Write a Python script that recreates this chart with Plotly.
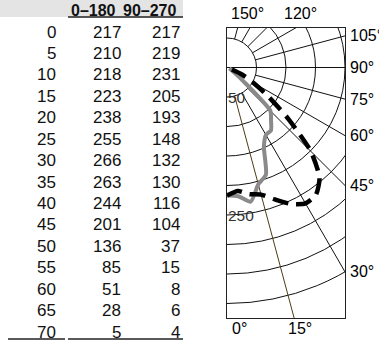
import numpy as np
import plotly.graph_objects as go

# ---------------- data ----------------
angles = [0, 5, 10, 15, 20, 25, 30, 35, 40, 45, 50, 55, 60, 65, 70]
c0_180 = [217, 210, 218, 223, 238, 255, 266, 263, 244, 201, 136, 85, 51, 28, 5]
c90_270 = [217, 219, 231, 205, 193, 148, 132, 130, 116, 104, 37, 15, 8, 6, 4]
col_headers = ["0–180", "90–270"]
spoke_angles = [15, 30, 45, 60, 75, 90, 105, 120, 135, 150, 165]
radial_ticks = [50, 100, 150, 200, 250, 300, 350, 400]
radial_labels = [50, 250]
top_labels = [150, 120]
right_labels = [105, 90, 75, 60, 45, 30]
bottom_labels = [0, 15]

# ---------------- layout constants ----------------
W, H = 379, 349
PL, PR, PT, PB = 227, 345, 28, 318      # polar frame in pixels
CY = 67.5                               # centre row (pixels)
SCALE = 0.59                            # pixels per candela
FONT = "Liberation Sans, Arial, sans-serif"

x_max = (PR - PL) / SCALE
y_top = (CY - PT) / SCALE
y_bot = -(PB - CY) / SCALE


def to_xy(r, a_deg):
    t = np.radians(np.asarray(a_deg, dtype=float))
    r = np.asarray(r, dtype=float)
    return r * np.sin(t), -r * np.cos(t)


fig = go.Figure()

# ---------------- curves ----------------
x2c, y2c = to_xy(c90_270, angles)
fig.add_trace(go.Scatter(x=x2c, y=y2c, mode="lines", name="90–270",
                         line=dict(color="#8a8a8a", width=4, shape="spline", smoothing=0.6),
                         xaxis="x", yaxis="y", hoverinfo="skip"))
x1c, y1c = to_xy(c0_180, angles)
fig.add_trace(go.Scatter(x=x1c, y=y1c, mode="lines", name="0–180",
                         line=dict(color="black", width=4.5, dash="16px,8px",
                                   shape="spline", smoothing=0.6),
                         xaxis="x", yaxis="y", hoverinfo="skip"))

shapes = []
# grid circles
for r in radial_ticks:
    shapes.append(dict(type="circle", xref="x", yref="y", x0=-r, x1=r, y0=-r, y1=r,
                       line=dict(color="#111", width=1), layer="below"))
# spokes
for a in spoke_angles:
    r0 = 0 if a % 90 == 0 else radial_ticks[0]
    xs, ys = to_xy([r0, 2000], [a, a])
    col = "#4d3d14" if a == 15 else "#111"
    shapes.append(dict(type="line", xref="x", yref="y", x0=xs[0], y0=ys[0], x1=xs[1], y1=ys[1],
                       line=dict(color=col, width=1), layer="below"))

annotations = []
# radial labels
for r in radial_labels:
    annotations.append(dict(x=0, y=-r, xref="x", yref="y", text=str(r), showarrow=False,
                            xanchor="left", yanchor="middle", xshift=-1,
                            font=dict(family=FONT, size=15.5, color="#333")))
# angle labels: top
for a, sh in zip(top_labels, [-2, 5]):
    t = np.radians(a)
    r = y_top / (-np.cos(t))
    annotations.append(dict(x=r * np.sin(t), y=y_top, xref="x", yref="y", text=f"{a}°",
                            showarrow=False, xanchor="center", yanchor="middle",
                            xshift=sh, yshift=15, font=dict(family=FONT, size=16, color="black")))
# right
for a in right_labels:
    t = np.radians(a)
    annotations.append(dict(x=x_max, y=-x_max * np.cos(t) / np.sin(t), xref="x", yref="y",
                            text=f"{a}°", showarrow=False, xanchor="left", yanchor="middle",
                            xshift=3, font=dict(family=FONT, size=16, color="black")))
# bottom
for a, sh in zip(bottom_labels, [12, 6]):
    t = np.radians(a)
    r = -y_bot / np.cos(t)
    annotations.append(dict(x=r * np.sin(t), y=y_bot, xref="x", yref="y", text=f"{a}°",
                            showarrow=False, xanchor="center", yanchor="middle",
                            xshift=sh, yshift=-10, font=dict(family=FONT, size=16, color="black")))

# ---------------- table (x2 in pixels, y2 in row units) ----------------
ROW0, ROWH = 32, 21.43
col_right = [58, 123, 182]
head_right = [118, 178]
for i, (a, v1, v2) in enumerate(zip(angles, c0_180, c90_270)):
    for txt, xr in zip([a, v1, v2], col_right):
        annotations.append(dict(x=xr, y=i, xref="x2", yref="y2", text=str(txt), showarrow=False,
                                xanchor="right", yanchor="middle",
                                font=dict(family=FONT, size=17, color="#111")))
for txt, xr in zip(col_headers, head_right):
    annotations.append(dict(x=xr, y=-1, xref="x2", yref="y2", text=f"<b>{txt}</b>",
                            showarrow=False, xanchor="right", yanchor="middle",
                            font=dict(family=FONT, size=16, color="#111")))

y2_top = -ROW0 / ROWH
y2_bot = (H - ROW0) / ROWH
head_line = (17 - ROW0) / ROWH
foot_line = (339 - ROW0) / ROWH
shapes.append(dict(type="rect", xref="x2", yref="y2", x0=0, x1=183, y0=y2_top, y1=head_line,
                   fillcolor="#e4e4e4", line=dict(width=0), layer="below"))
shapes.append(dict(type="line", xref="x2", yref="y2", x0=68, x1=183, y0=head_line, y1=head_line,
                   line=dict(color="#222", width=1.5)))
shapes.append(dict(type="line", xref="x2", yref="y2", x0=8, x1=65, y0=foot_line, y1=foot_line,
                   line=dict(color="#222", width=1.5)))
shapes.append(dict(type="line", xref="x2", yref="y2", x0=68, x1=183, y0=foot_line, y1=foot_line,
                   line=dict(color="#222", width=1.5)))

axis_common = dict(showgrid=False, zeroline=False, showticklabels=False, ticks="")
fig.update_layout(
    width=W, height=H,
    margin=dict(l=0, r=0, t=0, b=0),
    paper_bgcolor="white", plot_bgcolor="rgba(0,0,0,0)",
    showlegend=False,
    xaxis=dict(domain=[PL / W, PR / W], range=[0, x_max], showline=True, mirror=True,
               linecolor="#222", linewidth=1, fixedrange=True, **axis_common),
    yaxis=dict(domain=[1 - PB / H, 1 - PT / H], range=[y_bot, y_top], showline=True, mirror=True,
               linecolor="#222", linewidth=1, fixedrange=True, **axis_common),
    xaxis2=dict(domain=[0, 190 / W], range=[0, 190], visible=False, fixedrange=True,
                anchor="y2"),
    yaxis2=dict(domain=[0, 1], range=[y2_bot, y2_top], visible=False, fixedrange=True,
                anchor="x2"),
    shapes=shapes,
    annotations=annotations,
)

fig.write_html("out.html", config={"displayModeBar": False},
               post_script="document.body.style.margin='0px';document.body.style.overflow='hidden';")
